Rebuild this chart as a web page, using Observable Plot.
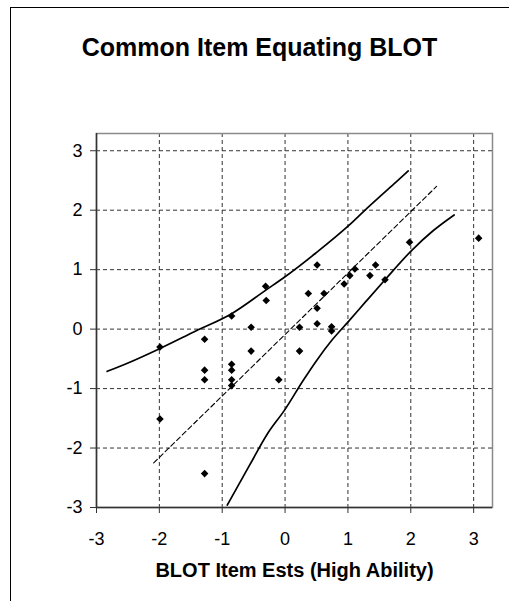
<!DOCTYPE html>
<html>
<head>
<meta charset="utf-8">
<script src="https://cdn.jsdelivr.net/npm/d3@7"></script>
<script src="https://cdn.jsdelivr.net/npm/@observablehq/plot@0.6"></script>
<style>
  html, body { margin: 0; padding: 0; background: #fff; }
  #wrap { position: relative; width: 509px; height: 601px; overflow: hidden; }
  #edge { position: absolute; left: 10px; top: 7px; right: -5px; bottom: -5px; border-left: 1.5px solid #000; border-top: 1.5px solid #000; pointer-events: none; }
  #wrap svg { position: absolute; left: 0; top: 0; }
</style>
</head>
<body>
<div id="wrap"><div id="edge"></div></div>
<script>
const title = "Common Item Equating BLOT";
const xLabel = "BLOT Item Ests (High Ability)";
const tickValues = [-3, -2, -1, 0, 1, 2, 3];
const gridValues = [-2, -1, 0, 1, 2, 3];

// Item estimates (x = high ability, y = other calibration)
const itemX = [-1.99, -1.99, -1.28, -1.28, -1.28, -1.28, -0.85, -0.85, -0.85, -0.85, -0.85,
  -0.54, -0.54, -0.31, -0.30, -0.10, 0.23, 0.23, 0.37, 0.51, 0.51, 0.51, 0.62, 0.74, 0.74,
  0.94, 1.03, 1.11, 1.35, 1.44, 1.59, 1.98, 3.08];
const itemY = [-0.30, -1.51, -0.17, -0.69, -0.85, -2.43, 0.22, -0.59, -0.69, -0.85, -0.95,
  0.03, -0.37, 0.72, 0.48, -0.85, 0.03, -0.37, 0.60, 1.08, 0.35, 0.09, 0.60, 0.04, -0.03,
  0.76, 0.90, 1.01, 0.90, 1.08, 0.83, 1.46, 1.53];

// Identity (equating) line
const idX = [-2.09, 2.41];
const idY = [-2.25, 2.40];

// Upper control curve
const upX = [-2.83, -2.48, -1.98, -1.42, -0.85, -0.30, 0.00, 0.49, 1.01, 1.31, 1.76, 1.96];
const upY = [-0.71, -0.56, -0.32, -0.03, 0.26, 0.66, 0.88, 1.28, 1.74, 2.04, 2.47, 2.66];

// Lower control curve
const loX = [-0.92, -0.56, -0.28, 0.00, 0.29, 0.50, 0.75, 1.01, 1.29, 1.59, 2.02, 2.35, 2.69];
const loY = [-2.96, -2.28, -1.76, -1.35, -0.86, -0.53, -0.18, 0.13, 0.47, 0.83, 1.33, 1.65, 1.92];

const points = itemX.map((x, i) => ({x, y: itemY[i]}));
const idLine = idX.map((x, i) => ({x, y: idY[i]}));
const upper = upX.map((x, i) => ({x, y: upY[i]}));
const lower = loX.map((x, i) => ({x, y: loY[i]}));
const fmt = d => String(d);

const chart = Plot.plot({
  width: 509,
  height: 601,
  marginLeft: 96,
  marginRight: 17,
  marginTop: 133,
  marginBottom: 94,
  x: {domain: [-3, 3.3]},
  y: {domain: [-3, 3.29]},
  style: {fontFamily: "'Liberation Sans', Arial, sans-serif", color: "#000", background: "transparent", overflow: "visible"},
  marks: [
    Plot.gridX(gridValues, {stroke: "#333", strokeOpacity: 1, strokeWidth: 1, strokeDasharray: "4,3"}),
    Plot.gridY(gridValues, {stroke: "#333", strokeOpacity: 1, strokeWidth: 1, strokeDasharray: "4,3"}),
    Plot.frame({stroke: "#8a8a8a", strokeWidth: 1.5}),
    Plot.ruleX([-3], {stroke: "#333", strokeWidth: 1.5}),
    Plot.ruleY([-3], {stroke: "#333", strokeWidth: 1.5}),
    Plot.axisX(tickValues, {tickSize: 6, tickPadding: 19, fontSize: 18, tickFormat: fmt, label: null, stroke: "#333"}),
    Plot.axisY(tickValues, {tickSize: 6, tickPadding: 8, fontSize: 18, tickFormat: fmt, label: null, stroke: "#333"}),
    Plot.line(idLine, {x: "x", y: "y", stroke: "#000", strokeWidth: 1.1, strokeDasharray: "5,3"}),
    Plot.line(upper, {x: "x", y: "y", stroke: "#000", strokeWidth: 1.7, curve: "monotone-x"}),
    Plot.line(lower, {x: "x", y: "y", stroke: "#000", strokeWidth: 1.7, curve: "monotone-x"}),
    Plot.dot(points, {x: "x", y: "y", symbol: "diamond2", r: 3.4, fill: "#000", stroke: "none"}),
    Plot.text([title], {frameAnchor: "top", lineAnchor: "middle", dx: -35, dy: -86, fontSize: 25, fontWeight: "bold"}),
    Plot.text([xLabel], {frameAnchor: "bottom", lineAnchor: "middle", dy: 63, fontSize: 20, fontWeight: "bold"})
  ]
});
document.getElementById("wrap").appendChild(chart);
</script>
</body>
</html>
